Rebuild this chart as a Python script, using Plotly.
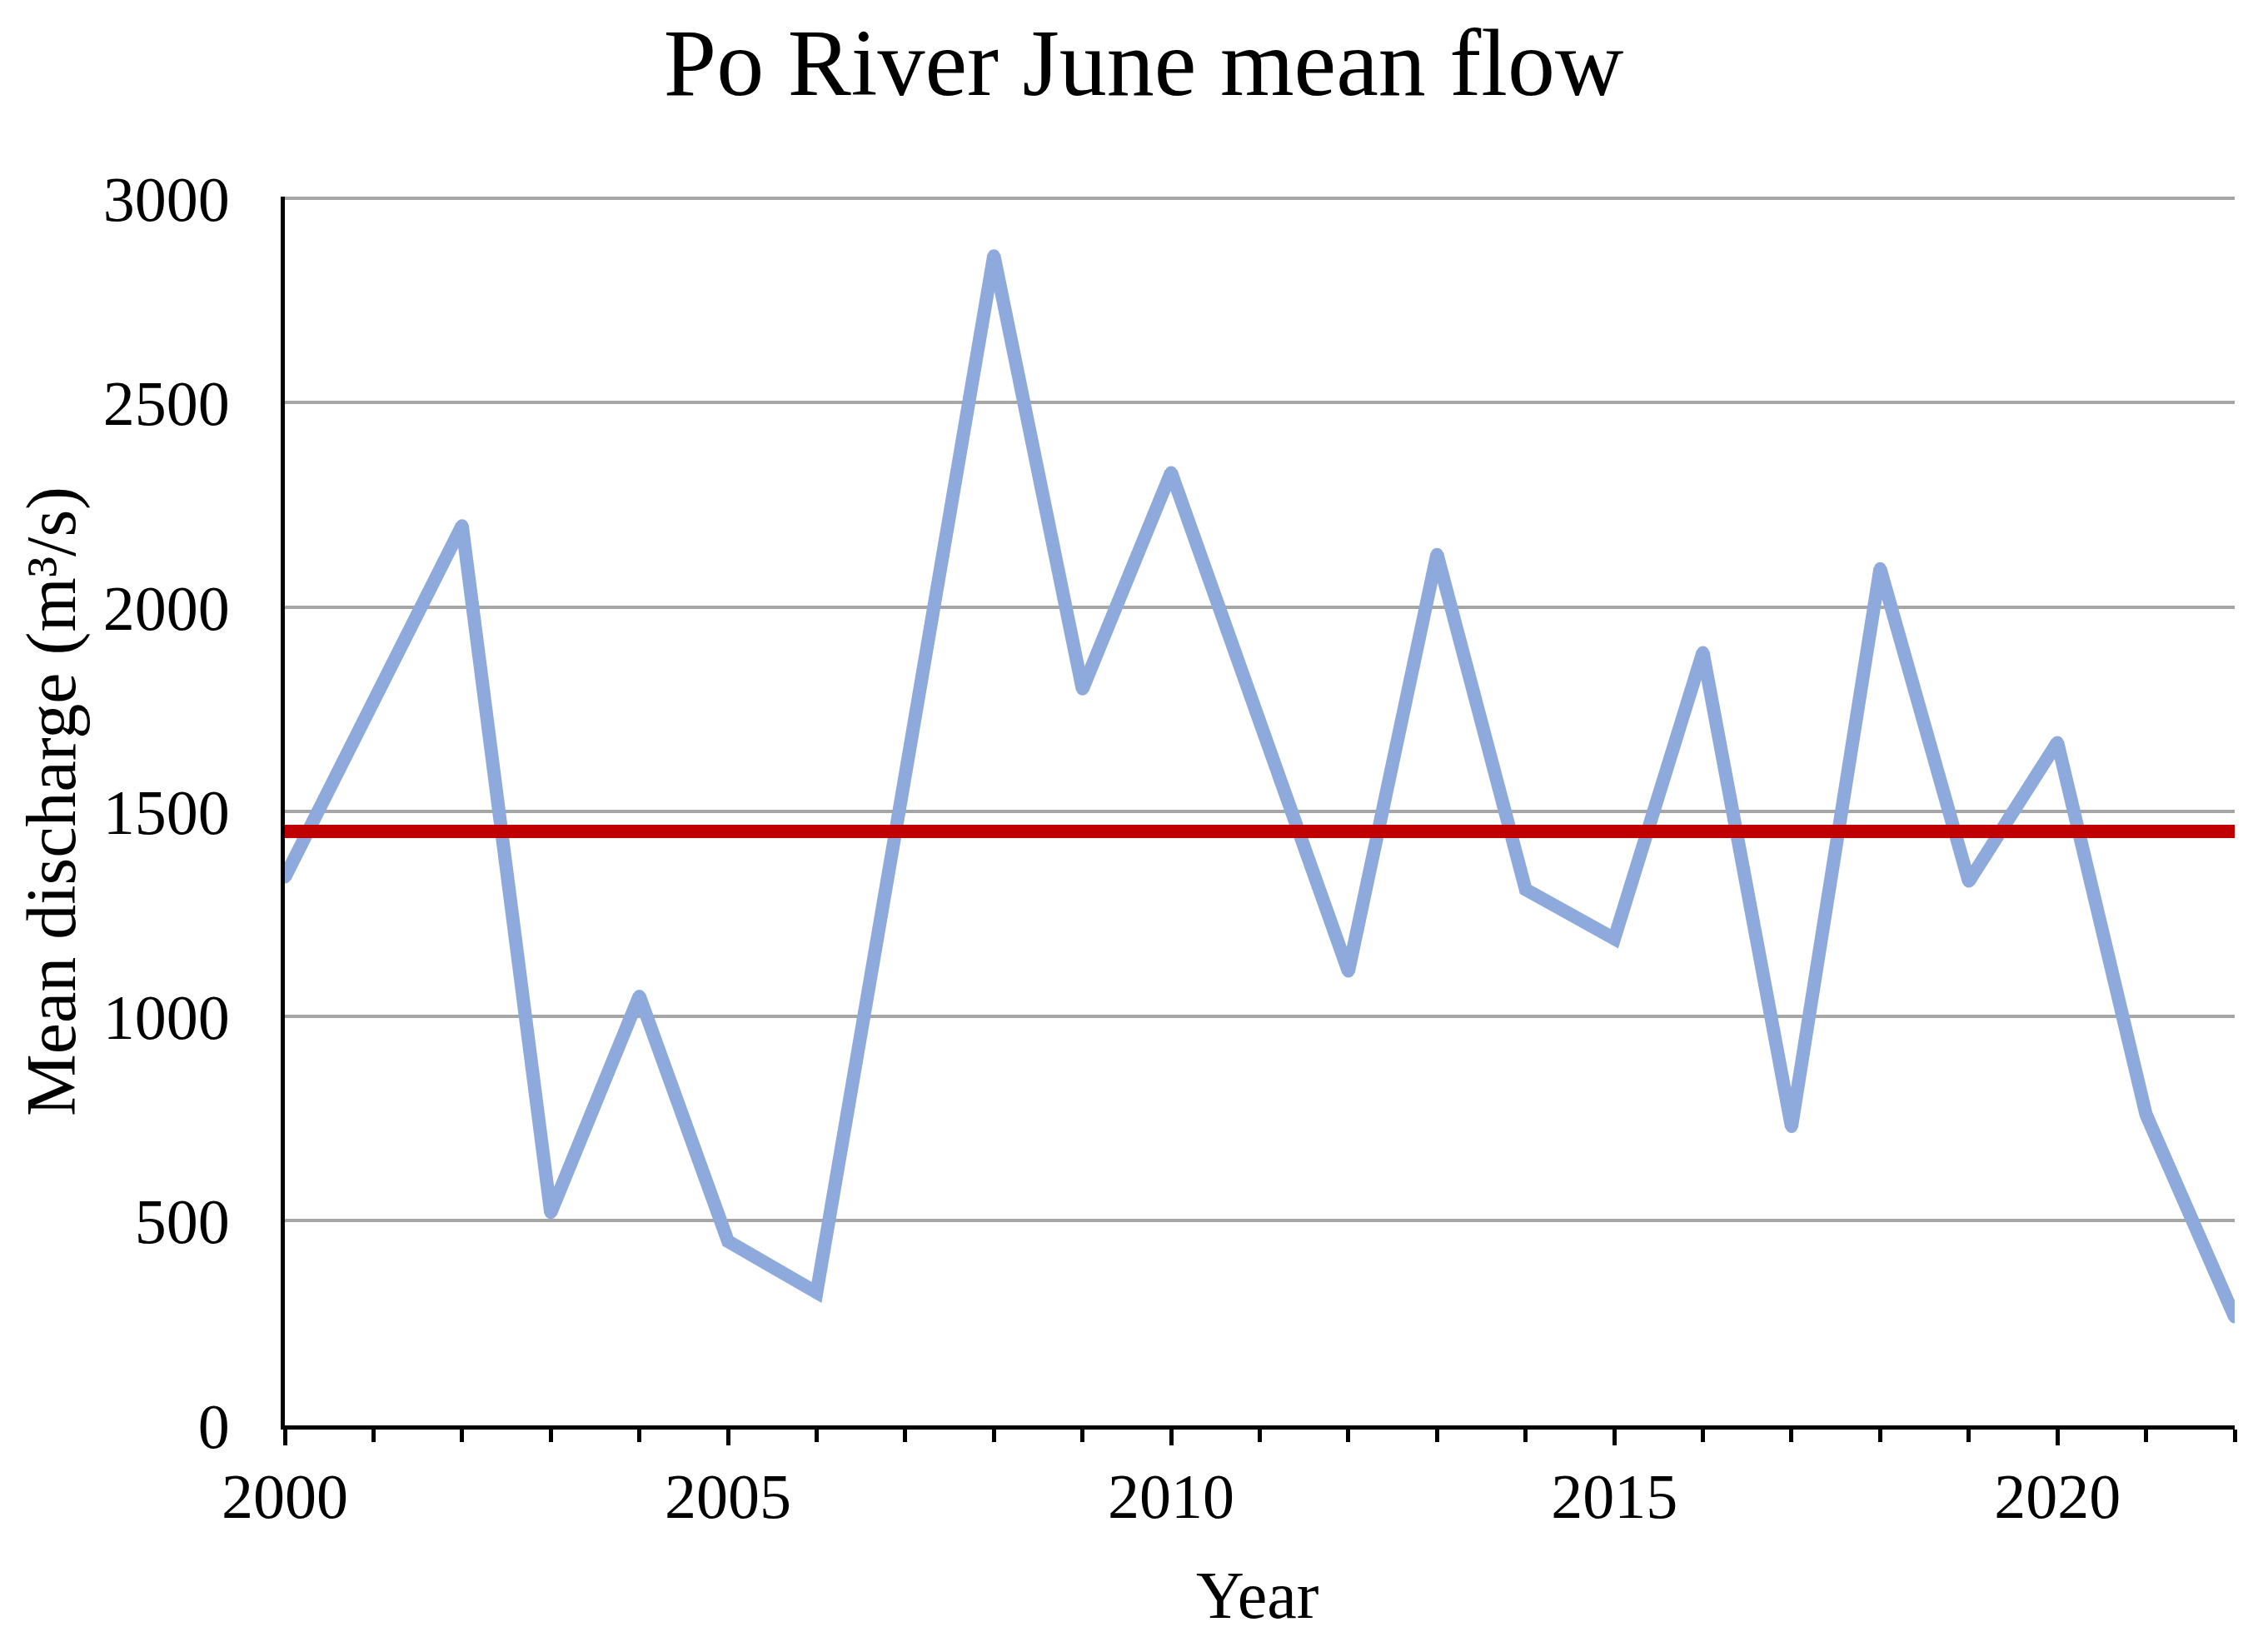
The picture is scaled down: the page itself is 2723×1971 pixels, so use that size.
import plotly.graph_objects as go

years = list(range(2000, 2023))
discharge = [1340, 1770, 2200, 520, 1050, 450, 325, 1590, 2860, 1800, 2330,
             1720, 1110, 2130, 1310, 1190, 1890, 730, 2095, 1330, 1670, 760, 265]
mean_flow = 1452
x_tick_vals = [2000, 2005, 2010, 2015, 2020]
y_tick_vals = [0, 500, 1000, 1500, 2000, 2500, 3000]

W, H = 2723, 1971
OFF = 8  # default page body margin
L, R, T, B = 342 - OFF, 40 + OFF, 236 - OFF, 260 + OFF
FONT = "Liberation Serif, Times New Roman, serif"
BLUE = "#8EA9DB"

fig = go.Figure()
fig.add_trace(go.Scatter(
    x=years, y=discharge, mode="lines+markers",
    line=dict(color=BLUE, width=16, shape="linear"),
    marker=dict(color=BLUE, size=15, line=dict(width=0)),
    cliponaxis=True,
    showlegend=False,
))
fig.add_trace(go.Scatter(
    x=[years[0], years[-1]], y=[mean_flow, mean_flow], mode="lines",
    line=dict(color="#C00000", width=16),
    showlegend=False,
))

pw = W - L - R
ph = H - T - B

def px_x(x):
    return (x - OFF - L) / pw

def px_y(y):
    return (H - B - (y - OFF)) / ph

fig.update_layout(
    template="none",
    width=W, height=H,
    margin=dict(l=L, r=R, t=T, b=B, pad=0, autoexpand=False),
    paper_bgcolor="white", plot_bgcolor="white",
    font=dict(family=FONT, color="black"),
    title=dict(text="Po River June mean flow", font=dict(family=FONT, size=114, color="black"),
               x=1365 / W, xanchor="center", y=1 - 66 / H, yanchor="middle",
               xref="container", yref="container"),
    xaxis=dict(
        range=[2000, 2022], tickvals=x_tick_vals, ticktext=[str(v) for v in x_tick_vals],
        ticks="outside", ticklen=19, tickwidth=5, tickcolor="black",
        minor=dict(dtick=1, tick0=2000, ticks="outside", ticklen=15, tickwidth=5,
                   tickcolor="black", showgrid=False),
        showline=True, linecolor="black", linewidth=5,
        showgrid=False, zeroline=False, automargin=False,
        tickfont=dict(family=FONT, size=76, color="black"),
        ticklabelstandoff=-4,
    ),
    yaxis=dict(
        range=[0, 3004], tickvals=y_tick_vals,
        ticks="", showline=True, linecolor="black", linewidth=5,
        showgrid=True, gridcolor="#A6A6A6", gridwidth=4, zeroline=False, automargin=False,
        tickfont=dict(family=FONT, size=76, color="black"),
        ticklabelstandoff=46,
    ),
    annotations=[
        dict(text="Mean discharge (m³/s)", textangle=-90,
             xref="paper", yref="paper", x=px_x(62), y=px_y(962),
             xanchor="center", yanchor="middle", showarrow=False,
             font=dict(family=FONT, size=84, color="black")),
        dict(text="Year", xref="paper", yref="paper",
             x=px_x(1509), y=px_y(1915),
             xanchor="center", yanchor="middle", showarrow=False,
             font=dict(family=FONT, size=80, color="black")),
    ],
)

fig.write_html("out.html")
